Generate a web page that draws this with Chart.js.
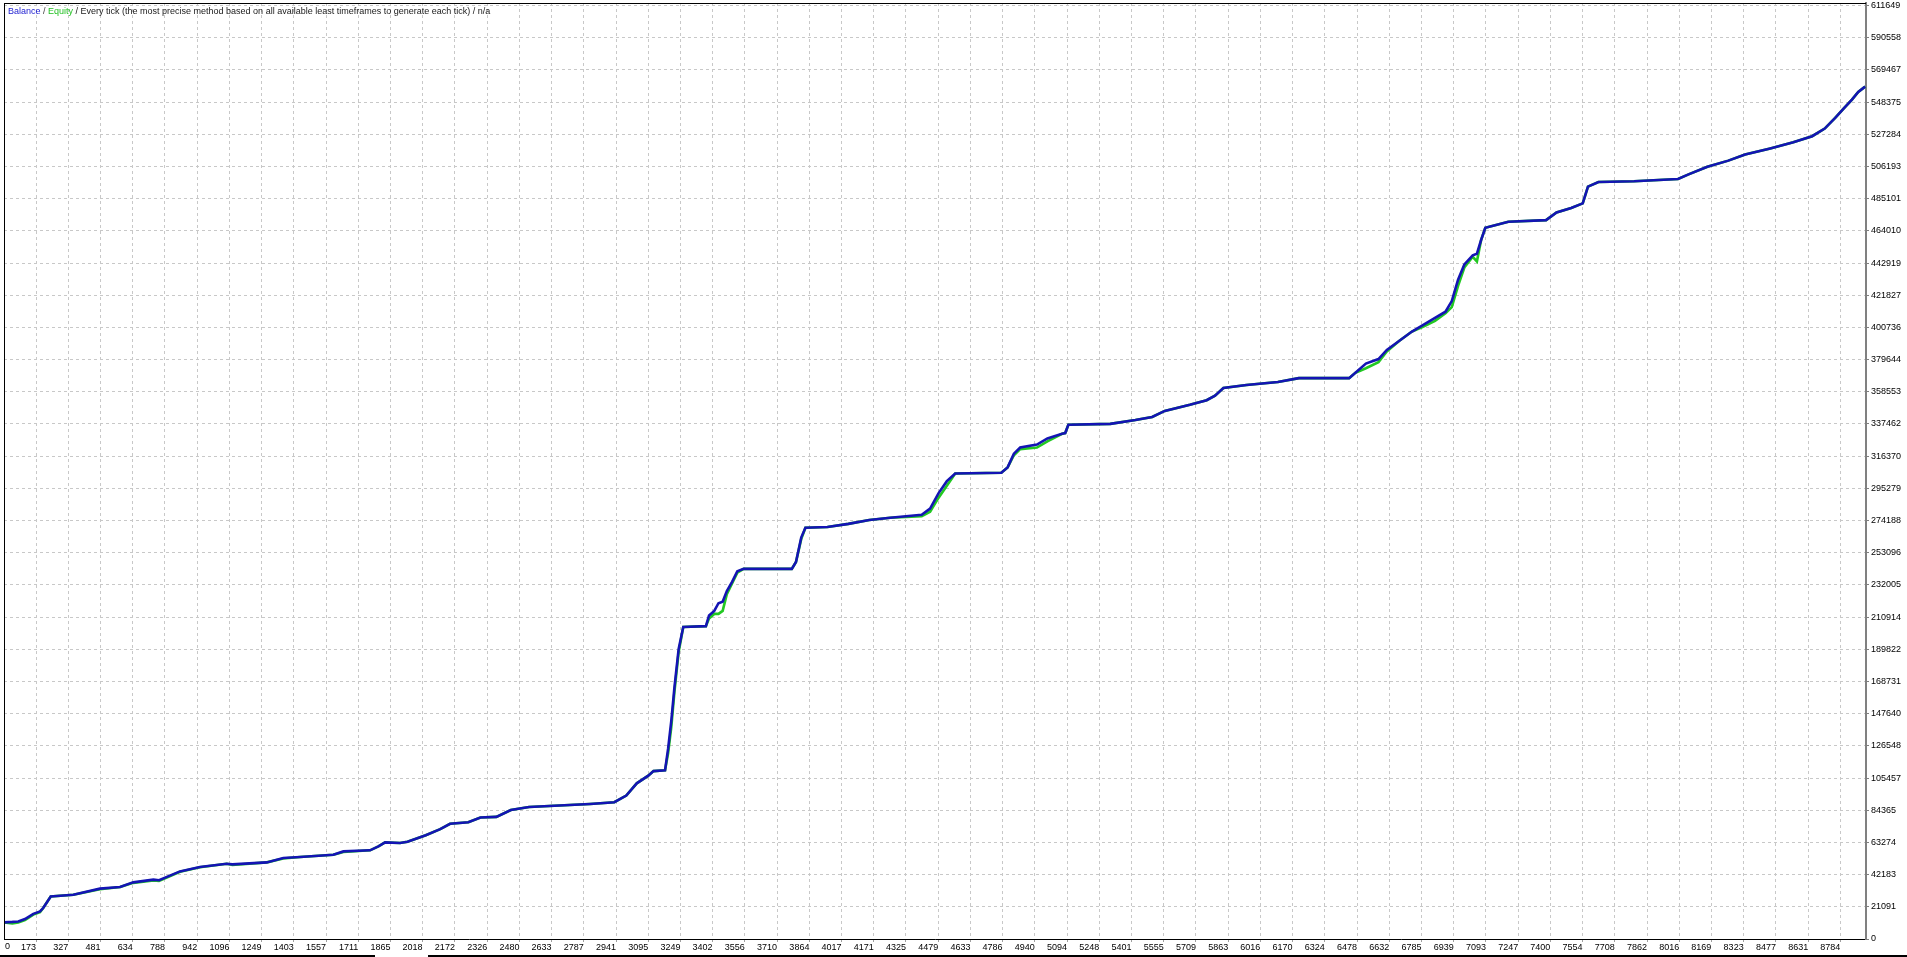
<!DOCTYPE html>
<html>
<head>
<meta charset="utf-8">
<title>Balance / Equity</title>
<script src="https://cdn.jsdelivr.net/npm/chart.js@4.4.1/dist/chart.umd.min.js"></script>
<style>
  html, body { margin: 0; padding: 0; background: #fff; overflow: hidden; }
  canvas { display: block; }
</style>
</head>
<body>
<canvas id="tester" width="1907" height="957"></canvas>
<script>
// trade number (x) and account values
const trades = [
  20, 60, 88, 120, 160, 192, 207, 243, 351, 478,
  574, 637, 733, 760, 860, 955, 1083, 1110, 1274, 1353,
  1433, 1592, 1640, 1767, 1807, 1839, 1910, 1946, 2033, 2102,
  2149, 2236, 2294, 2370, 2439, 2526, 2671, 2817, 2933, 2990,
  3040, 3095, 3120, 3175, 3190, 3205, 3220, 3240, 3262, 3370,
  3385, 3410, 3430, 3450, 3470, 3495, 3520, 3550, 3780, 3800,
  3825, 3845, 3950, 4050, 4150, 4250, 4400, 4440, 4480, 4520,
  4560, 4780, 4810, 4840, 4870, 4950, 5000, 5070, 5085, 5100,
  5300, 5420, 5500, 5560, 5680, 5760, 5800, 5840, 5950, 6100,
  6200, 6440, 6470, 6520, 6580, 6620, 6680, 6740, 6790, 6850,
  6900, 6930, 6960, 6990, 7030, 7050, 7070, 7090, 7200, 7380,
  7430, 7500, 7555, 7580, 7630, 7800, 8010, 8060, 8150, 8250,
  8330, 8450, 8560, 8650, 8710, 8760, 8800, 8840, 8870, 8903
];

const balance = [
  10900, 11200, 11500, 13100, 16500, 18100, 20300, 27900, 29000, 33000,
  34100, 37100, 38900, 38500, 44300, 47200, 49300, 48900, 50200, 53100,
  53700, 55200, 57400, 58100, 60700, 63300, 62900, 63700, 68000, 72000,
  75500, 76500, 79600, 80000, 84500, 86500, 87500, 88500, 89600, 94000,
  102000, 107000, 110000, 110500, 125000, 143000, 165000, 190000, 204500, 205000,
  212000, 215000, 220000, 221000, 228000, 234000, 241000, 242500, 242500, 247000,
  263000, 269500, 270000, 272000, 274500, 276000, 278000, 282000, 292000, 300000,
  305000, 305500, 309000, 318000, 322000, 324000, 328000, 331000, 331500, 337000,
  337500, 340000, 342000, 346000, 350000, 353000, 356000, 361000, 363000, 365000,
  367500, 367500, 371000, 377000, 380000, 386000, 392000, 398000, 402000, 407000,
  411000, 418000, 432000, 442000, 448000, 449000, 458000, 466000, 470000, 471000,
  476000, 479000, 482000, 493000, 496000, 496500, 498000, 501000, 506000, 510000,
  514000, 518000, 522000, 526000, 531000, 538000, 544000, 550000, 555000, 558500
];

const equity = [
  10900, 10200, 10800, 12400, 16000, 17600, 20300, 27900, 29000, 32600,
  34100, 36800, 38400, 38000, 44000, 47000, 49300, 48500, 50200, 52800,
  53700, 55200, 57000, 58100, 60700, 63300, 62900, 63700, 68000, 72000,
  75500, 76500, 79600, 80000, 84500, 86500, 87500, 88500, 89600, 94000,
  102000, 107000, 110000, 110500, 122000, 139000, 162000, 188000, 204500, 205000,
  210000, 213000, 213000, 215000, 226000, 233000, 240000, 242500, 242500, 247000,
  262000, 269500, 270000, 272000, 274500, 276000, 277000, 280000, 289000, 297000,
  305000, 305500, 309000, 317000, 321000, 322000, 326000, 331000, 331500, 337000,
  337500, 340000, 342000, 346000, 350000, 353000, 356000, 361000, 363000, 365000,
  367500, 367500, 371000, 374000, 378000, 385000, 392000, 398000, 401000, 405000,
  410000, 414000, 428000, 440000, 447000, 444000, 458000, 466000, 470000, 471000,
  476000, 479000, 482000, 493000, 496000, 496500, 498000, 501000, 506000, 510000,
  514000, 518000, 522000, 526000, 531000, 538000, 544000, 550000, 555000, 558500
];

const xTickVals = [
  173, 327, 481, 634, 788, 942, 1096, 1249, 1403, 1557, 1711, 1865, 2018, 2172,
  2326, 2480, 2633, 2787, 2941, 3095, 3249, 3402, 3556, 3710, 3864, 4017, 4171,
  4325, 4479, 4633, 4786, 4940, 5094, 5248, 5401, 5555, 5709, 5863, 6016, 6170,
  6324, 6478, 6632, 6785, 6939, 7093, 7247, 7400, 7554, 7708, 7862, 8016, 8169,
  8323, 8477, 8631, 8784
];

const yTickVals = [
  0, 21091, 42183, 63274, 84365, 105457, 126548, 147640, 168731, 189822,
  210914, 232005, 253096, 274188, 295279, 316370, 337462, 358553, 379644,
  400736, 421827, 442919, 464010, 485101, 506193, 527284, 548375, 569467,
  590558, 611649
];

const header = [
  ['Balance', '#1c1cd0'],
  [' / ', '#404040'],
  ['Equity', '#22c022'],
  [' / Every tick (the most precise method based on all available least timeframes to generate each tick) / n/a', '#202020']
];

const FONT = '"Liberation Sans", Arial, sans-serif';
const FONT_SIZE = 9;

const framePlugin = {
  id: 'frame',
  afterDraw(chart) {
    const { ctx, chartArea: a } = chart;
    ctx.save();
    // left and top borders
    ctx.fillStyle = '#000';
    ctx.fillRect(a.left, a.top, 1, a.bottom - a.top);
    ctx.fillRect(a.left, a.top, a.right - a.left, 1);
    // window edge at the bottom
    ctx.fillRect(0, 955, 375, 2);
    ctx.fillRect(428, 955, 1907 - 428, 2);

    ctx.font = FONT_SIZE + 'px ' + FONT;
    ctx.textBaseline = 'top';
    ctx.textAlign = 'left';
    ctx.fillStyle = '#000';
    ctx.fillText('0', a.left + 1, a.bottom + 3);

    // header line
    ctx.textBaseline = 'alphabetic';
    let x = 8;
    for (const [txt, col] of header) {
      ctx.fillStyle = col;
      ctx.fillText(txt, x, 14);
      x += ctx.measureText(txt).width;
    }
    ctx.restore();
  }
};

new Chart(document.getElementById('tester'), {
  type: 'line',
  data: {
    datasets: [
      {
        label: 'Balance',
        data: trades.map((t, i) => ({ x: t, y: balance[i] })),
        borderColor: '#1414b4',
        borderWidth: 2.6,
        pointRadius: 0,
        tension: 0
      },
      {
        label: 'Equity',
        data: trades.map((t, i) => ({ x: t, y: equity[i] })),
        borderColor: '#22c822',
        borderWidth: 2.6,
        pointRadius: 0,
        tension: 0
      }
    ]
  },
  options: {
    responsive: false,
    animation: false,
    layout: { padding: { left: 4, top: 3, right: 0, bottom: 0 } },
    plugins: {
      legend: { display: false },
      tooltip: { enabled: false }
    },
    scales: {
      x: {
        type: 'linear',
        min: 20,
        max: 8907,
        afterBuildTicks: s => { s.ticks = xTickVals.map(v => ({ value: v })); },
        afterFit: s => { s.height = 18; s.paddingLeft = 0; s.paddingRight = 0; },
        ticks: {
          align: 'end',
          autoSkip: false,
          maxRotation: 0,
          padding: 0,
          color: '#000',
          font: { family: FONT, size: FONT_SIZE },
          callback: v => String(v)
        },
        grid: {
          color: '#c8c8c8',
          lineWidth: 1,
          tickLength: 3,
          tickColor: '#a0a0a0',
          tickBorderDash: []
        },
        border: { color: '#000', width: 1, dash: [3, 3] }
      },
      y: {
        position: 'right',
        min: 0,
        max: 613287,
        afterBuildTicks: s => { s.ticks = yTickVals.map(v => ({ value: v })); },
        afterFit: s => { s.width = 41; s.paddingTop = 0; s.paddingBottom = 0; },
        ticks: {
          autoSkip: false,
          padding: 2,
          color: '#000',
          font: { family: FONT, size: FONT_SIZE },
          callback: v => String(v)
        },
        grid: {
          color: '#c8c8c8',
          lineWidth: 1,
          tickLength: 3,
          tickColor: '#808080',
          tickBorderDash: []
        },
        border: { color: '#808080', width: 2, dash: [3, 3] }
      }
    }
  },
  plugins: [framePlugin]
});
</script>
</body>
</html>
